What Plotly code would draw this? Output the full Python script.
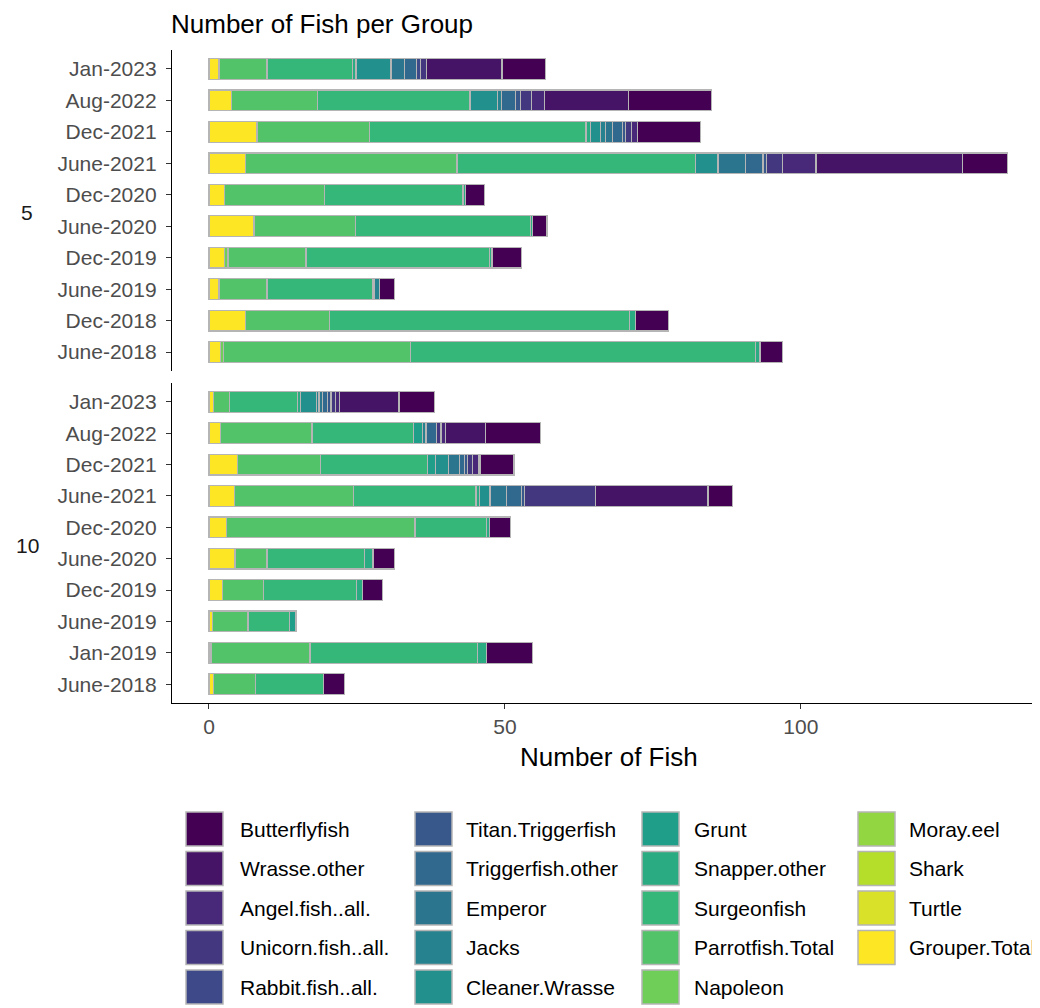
import plotly.graph_objects as go
from plotly.colors import sample_colorscale, sequential

# ---------------- data ----------------
species = ["Butterflyfish", "Wrasse.other", "Angel.fish..all.", "Unicorn.fish..all.",
           "Rabbit.fish..all.", "Titan.Triggerfish", "Triggerfish.other", "Emperor",
           "Jacks", "Cleaner.Wrasse", "Grunt", "Snapper.other", "Surgeonfish",
           "Parrotfish.Total", "Napoleon", "Moray.eel", "Shark", "Turtle", "Grouper.Total"]

dates_5 = ["Jan-2023", "Aug-2022", "Dec-2021", "June-2021", "Dec-2020",
           "June-2020", "Dec-2019", "June-2019", "Dec-2018", "June-2018"]
dates_10 = ["Jan-2023", "Aug-2022", "Dec-2021", "June-2021", "Dec-2020",
            "June-2020", "Dec-2019", "June-2019", "Jan-2019", "June-2018"]

# each list: 10 values for group 5 (dates_5 order), then 10 for group 10 (dates_10 order)
butterflyfish = [7.3, 14.1, 10.6, 7.6, 3.3, 2.5, 5.0, 2.5, 5.6, 3.8,
                 6.0, 9.3, 5.6, 4.1, 3.6, 3.7, 3.3, 0, 7.7, 3.5]
wrasse_other = [12.8, 14.2, 0, 24.8, 0, 0, 0, 0, 0, 0,
                10.1, 6.8, 0.3, 19.0, 0, 0, 0, 0, 0, 0]
angel_fish = [0, 2.1, 1.0, 5.6, 0, 0, 0, 0, 0, 0,
              0.6, 0.72, 1.1, 0, 0, 0, 0, 0, 0, 0]
unicorn_fish = [0.9, 1.9, 1.1, 2.8, 0, 0, 0, 0, 0, 0,
                0.8, 0.75, 0.85, 12.0, 0, 0, 0, 0, 0, 0]
rabbit_fish = [0.8, 0, 0, 0, 0, 0, 0, 0, 0, 0,
               0, 0, 0, 0, 0, 0, 0, 0, 0, 0]
titan_triggerfish = [0, 0.85, 0.5, 0.56, 0, 0, 0, 0, 0, 0,
                     0.6, 0, 0.57, 0.45, 0, 0, 0, 0, 0, 0]
triggerfish_other = [2.0, 2.4, 1.7, 2.9, 0, 0, 0, 0, 0, 0,
                     0.85, 1.8, 0.85, 2.6, 0, 0, 0, 0, 0, 0]
emperor = [2.25, 0, 1.2, 4.7, 0, 0, 0, 0, 0, 0,
           0.55, 0, 1.86, 2.8, 0, 0, 0, 0, 0, 0]
jacks = [0, 0.7, 0.85, 0, 0, 0, 0, 0.85, 0, 0,
         0.4, 0.56, 0, 0, 0, 0, 0, 0, 0, 0]
cleaner_wrasse = [5.9, 4.6, 1.7, 3.8, 0, 0, 0, 0, 0, 0,
                  2.7, 0, 2.1, 1.8, 0, 0, 0, 0, 0, 0]
grunt = [0, 0, 0, 0, 0, 0, 0, 0, 0, 0,
         0, 1.6, 1.4, 0, 0, 0, 0, 1.1, 0, 0]
snapper_other = [0.55, 0, 0.7, 0, 0.4, 0.3, 0.4, 0.3, 1.0, 0.7,
                 0.6, 0, 0, 0.56, 0.45, 1.4, 1.1, 0, 1.6, 0]
surgeonfish = [14.5, 25.8, 36.6, 40.3, 23.4, 29.6, 31.0, 17.9, 50.7, 58.3,
               11.5, 17.1, 18.0, 20.7, 12.1, 16.5, 15.7, 7.0, 28.3, 11.5]
parrotfish_total = [8.1, 14.5, 19.0, 35.8, 16.9, 17.1, 13.2, 8.1, 14.2, 31.7,
                    2.7, 15.4, 14.1, 20.1, 31.9, 5.4, 6.9, 6.0, 16.7, 7.2]
napoleon = [0, 0, 0, 0, 0, 0, 0.6, 0, 0, 0.4,
            0, 0, 0, 0, 0, 0, 0, 0, 0.35, 0]
moray_eel = [0] * 20
shark = [0] * 20
turtle = [0] * 20
grouper_total = [1.7, 3.8, 8.1, 6.1, 2.6, 7.6, 2.6, 1.7, 6.1, 2.0,
                 0.7, 2.0, 4.8, 4.3, 2.9, 4.4, 2.3, 0.6, 0, 0.7]

values = [butterflyfish, wrasse_other, angel_fish, unicorn_fish, rabbit_fish,
          titan_triggerfish, triggerfish_other, emperor, jacks, cleaner_wrasse,
          grunt, snapper_other, surgeonfish, parrotfish_total, napoleon,
          moray_eel, shark, turtle, grouper_total]

x_ticks = [0, 50, 100]

# ---------------- styling ----------------
OFF = 8                      # page body margin
W, H = 1040 - OFF, 1008 - OFF
FONT = "Liberation Sans, Arial, sans-serif"
colors = sample_colorscale(sequential.Viridis, [i / 18 for i in range(19)])
OUTLINE = "#b5b5b5"


def px(x):
    return (x - OFF) / W


def py(y):
    return 1 - (y - OFF) / H


fig = go.Figure()

# stack from left: Grouper.Total first ... Butterflyfish last
for i in reversed(range(len(species))):
    vals = values[i]
    for part, (dates, xa, ya) in enumerate([(dates_5, "x", "y"), (dates_10, "x2", "y2")]):
        xs = [v if v > 0 else None for v in vals[part * 10:(part + 1) * 10]]
        fig.add_trace(go.Bar(
            x=xs, y=dates, orientation="h", width=0.66,
            marker=dict(color=colors[i], line=dict(color=OUTLINE, width=1.2)),
            name=species[i], showlegend=False, xaxis=xa, yaxis=ya,
            hovertemplate=species[i] + ": %{x}<extra></extra>",
        ))

xr = [-6.25, 140.4]
xdom = [px(172), 1]
tickfont = dict(family=FONT, size=21, color="#4d4d4d")

common_y = dict(showline=True, linecolor="black", linewidth=1.3, ticks="outside",
                ticklen=5, tickcolor="#333333", tickwidth=1.2, tickfont=tickfont,
                showgrid=False, zeroline=False, type="category",
                range=[-0.6, 9.6], ticklabelstandoff=5)

fig.update_layout(
    width=W, height=H,
    margin=dict(l=0, r=0, t=0, b=0),
    paper_bgcolor="white", plot_bgcolor="white",
    barmode="stack",
    showlegend=False,
    font=dict(family=FONT),
    xaxis=dict(domain=xdom, range=xr, anchor="y", showticklabels=False,
               showline=False, ticks="", showgrid=False, zeroline=False),
    xaxis2=dict(domain=xdom, range=xr, anchor="y2", showline=True, linecolor="black",
                linewidth=1.3, ticks="outside", ticklen=5, tickcolor="#333333",
                tickwidth=1.2, tickvals=x_ticks, tickfont=tickfont,
                showgrid=False, zeroline=False),
    yaxis=dict(domain=[py(371), py(50)], anchor="x",
               categoryorder="array", categoryarray=dates_5[::-1], **common_y),
    yaxis2=dict(domain=[py(703), py(383)], anchor="x2",
                categoryorder="array", categoryarray=dates_10[::-1], **common_y),
)

annotations = [
    dict(text="Number of Fish per Group", x=px(169), y=py(24), xref="paper", yref="paper",
         xanchor="left", yanchor="middle", showarrow=False,
         font=dict(family=FONT, size=26, color="black")),
    dict(text="Number of Fish", x=px(609), y=py(757), xref="paper", yref="paper",
         xanchor="center", yanchor="middle", showarrow=False,
         font=dict(family=FONT, size=26, color="black")),
    dict(text="5", x=px(27), y=py(213), xref="paper", yref="paper",
         xanchor="center", yanchor="middle", showarrow=False,
         font=dict(family=FONT, size=21, color="#1a1a1a")),
    dict(text="10", x=px(27), y=py(545), xref="paper", yref="paper",
         xanchor="center", yanchor="middle", showarrow=False,
         font=dict(family=FONT, size=21, color="#1a1a1a")),
]

shapes = []
key_x = [186, 415, 642, 858]
text_x = [238, 464, 692, 907]
for i, sp in enumerate(species):
    col, row = divmod(i, 5)
    cy = 829 + row * 39.5
    shapes.append(dict(type="rect", xref="paper", yref="paper",
                       x0=px(key_x[col]), x1=px(key_x[col] + 37),
                       y0=py(cy + 17), y1=py(cy - 17),
                       fillcolor=colors[i], line=dict(color=OUTLINE, width=1.5)))
    annotations.append(dict(text=sp, x=px(text_x[col]), y=py(cy), xref="paper", yref="paper",
                            xanchor="left", yanchor="middle", showarrow=False,
                            font=dict(family=FONT, size=21, color="black")))

fig.update_layout(annotations=annotations, shapes=shapes)

fig.write_html("out.html")
